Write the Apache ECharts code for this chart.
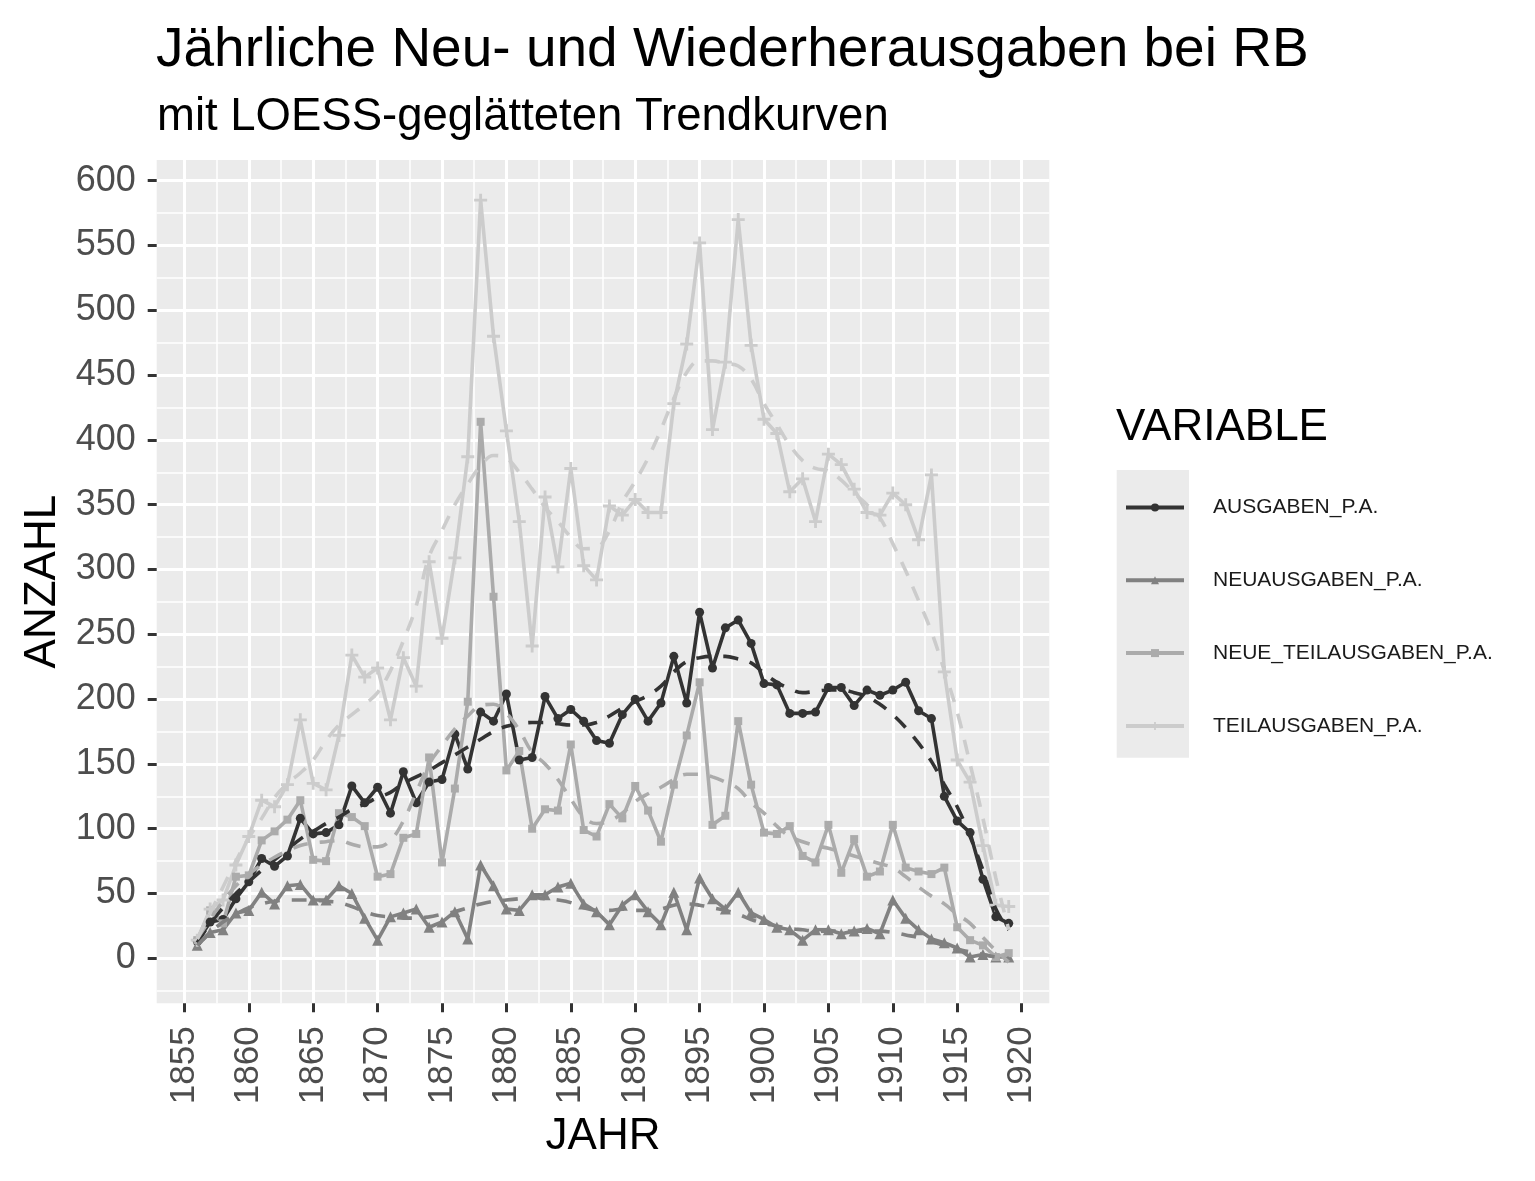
<!DOCTYPE html>
<html>
<head>
<meta charset="utf-8">
<script src="https://cdn.jsdelivr.net/npm/echarts@6/dist/echarts.min.js"></script>
<style>
html,body{margin:0;padding:0;background:#fff;}
#chart{width:1535px;height:1181px;}
</style>
</head>
<body>
<div id="chart"></div>
<script>
var years = [1856,1857,1858,1859,1860,1861,1862,1863,1864,1865,
  1866,1867,1868,1869,1870,1871,1872,1873,1874,1875,
  1876,1877,1878,1879,1880,1881,1882,1883,1884,1885,
  1886,1887,1888,1889,1890,1891,1892,1893,1894,1895,
  1896,1897,1898,1899,1900,1901,1902,1903,1904,1905,
  1906,1907,1908,1909,1910,1911,1912,1913,1914,1915,
  1916,1917,1918,1919];

var ausgaben = [13,28,30,46,59,77,71,79,108,96,
  97,103,133,120,132,112,144,120,136,138,
  173,146,190,183,204,153,155,202,185,192,
  183,168,166,188,200,183,197,233,197,267,
  224,255,261,243,212,211,189,189,190,209,
  209,195,207,203,207,213,191,185,125,106,
  97,61,32,27];

var neuausgaben = [10,20,22,35,37,51,42,56,57,45,
  45,56,50,31,14,32,35,38,24,28,
  36,15,72,56,38,37,49,49,55,58,
  42,36,26,41,49,36,26,51,22,62,
  46,38,51,35,30,24,22,14,22,22,
  19,21,23,19,45,31,22,15,12,8,
  1,3,1,1];

var neueTeilausgaben = [14,37,27,63,64,91,98,107,122,76,
  75,112,109,102,63,65,93,96,155,74,
  131,198,414,279,145,160,100,115,114,165,
  99,94,119,108,133,114,90,134,172,213,
  103,110,183,134,97,96,102,79,74,103,
  66,92,63,67,103,70,67,65,70,24,
  14,10,1,4];

var teilausgaben = [14,38,45,72,94,122,117,134,184,135,
  130,172,234,217,224,184,232,210,306,247,
  309,387,585,480,407,337,241,356,302,378,
  303,292,349,342,354,344,344,428,474,552,
  408,460,570,473,416,405,360,370,337,389,
  381,362,344,342,359,350,323,373,221,153,
  136,87,41,40];

var ausgabenLoess = [12,27,39,50,59,68,76,84,92,98,
  104,109,115,119,124,128,135,140,145,151,
  157,163,169,175,179,181,182,182,181,180,
  180,182,187,193,198,203,210,221,229,232,
  233,233,231,228,220,213,208,205,206,207,
  207,205,202,196,188,178,166,152,134,117,
  94,68,38,22];

var neuausgabenLoess = [10,20,28,34,39,42,44,45,45,45,
  44,43,40,36,33,32,31,31,32,34,
  36,39,42,44,45,46,47,46,45,43,
  39,37,37,38,37,37,38,41,42,41,
  39,37,34,30,27,25,23,22,21,21,
  21,21,21,21,20,18,16,13,10,7,
  5,3,1,0];

var neueTeilausgabenLoess = [15,30,44,56,65,72,78,83,87,89,
  90,91,88,86,86,91,106,128,150,164,
  177,187,195,196,189,176,159,150,138,123,
  109,104,106,112,121,127,132,138,142,142,
  140,136,131,120,112,102,94,90,87,85,
  82,79,76,73,70,63,55,48,42,34,
  27,16,6,-3];

var teilausgabenLoess = [15,35,55,75,93,108,124,135,143,153,
  168,180,188,196,205,222,245,272,310,330,
  350,366,380,388,386,375,362,348,337,325,
  316,317,330,352,368,386,408,432,452,461,
  461,459,457,447,428,412,396,384,378,376,
  369,359,350,340,320,299,276,252,222,190,
  150,108,62,22];

var seriesNames = ['AUSGABEN_P.A.','NEUAUSGABEN_P.A.','NEUE_TEILAUSGABEN_P.A.','TEILAUSGABEN_P.A.'];
var xMajorTicks = [1855,1860,1865,1870,1875,1880,1885,1890,1895,1900,1905,1910,1915,1920];
var xMinorTicks = [1857.5,1862.5,1867.5,1872.5,1877.5,1882.5,1887.5,1892.5,1897.5,1902.5,1907.5,1912.5,1917.5];
var yMajorTicks = [0,50,100,150,200,250,300,350,400,450,500,550,600];
var yMinorTicks = [-25,25,75,125,175,225,275,325,375,425,475,525,575];

var FONT = "'Liberation Sans', Arial, Helvetica, sans-serif";
var colors = ['#333333','#818181','#ababab','#cccccc'];
var symbols = ['circle','triangle','rect','path://M3.9,0H6.1V3.9H10V6.1H6.1V10H3.9V6.1H0V3.9H3.9Z'];
var symbolSizes = [9,11,8,13];
var valueSets = [ausgaben, neuausgaben, neueTeilausgaben, teilausgaben];
var loessSets = [ausgabenLoess, neuausgabenLoess, neueTeilausgabenLoess, teilausgabenLoess];

function pairs(arr){ return years.map(function(y,i){ return [y, arr[i]]; }); }

var series = [];
for (var k = 0; k < 4; k++) {
  series.push({
    name: seriesNames[k], type: 'line', data: pairs(valueSets[k]),
    symbol: symbols[k], symbolSize: symbolSizes[k], showSymbol: true,
    symbolKeepAspect: true,
    lineStyle: {color: colors[k], width: 3.6},
    itemStyle: {color: colors[k]},
    emphasis: {disabled: true},
    z: 2
  });
}
for (var k2 = 0; k2 < 4; k2++) {
  series.push({
    name: seriesNames[k2] + ' LOESS', type: 'line', data: pairs(loessSets[k2]),
    symbol: 'none', showSymbol: false, smooth: 0.4,
    lineStyle: {color: colors[k2], width: 3.6, type: [15, 12]},
    emphasis: {disabled: true},
    z: 3
  });
}

var chart = echarts.init(document.getElementById('chart'), null, {renderer: 'canvas'});
chart.setOption({
  animation: false,
  backgroundColor: '#ffffff',
  title: [
    {text: 'Jährliche Neu- und Wiederherausgaben bei RB', left: 156, top: 23, padding: 0,
     textStyle: {fontFamily: FONT, fontSize: 55, fontWeight: 'normal', color: '#000'}},
    {text: 'mit LOESS-geglätteten Trendkurven', left: 157, top: 94, padding: 0,
     textStyle: {fontFamily: FONT, fontSize: 45.5, fontWeight: 'normal', color: '#000'}},
    {text: 'VARIABLE', left: 1116, top: 406, padding: 0,
     textStyle: {fontFamily: FONT, fontSize: 44, fontWeight: 'normal', color: '#000'}}
  ],
  graphic: [
    {type: 'rect', left: 1116.7, top: 470, z: 0, shape: {width: 72.3, height: 287.7}, style: {fill: '#ebebeb'}}
  ],
  legend: {
    data: seriesNames, orient: 'vertical', left: 1124, top: 497, padding: 0,
    itemWidth: 58, itemHeight: 10, itemGap: 51.8,
    lineStyle: {width: 4},
    textStyle: {fontFamily: FONT, fontSize: 21, color: '#1a1a1a', padding: [0, 0, 0, 24]},
    selectedMode: false
  },
  grid: {left: 156.7, top: 160, width: 892.6, height: 843.3, show: true,
         backgroundColor: '#ebebeb', borderWidth: 0, containLabel: false, outerBoundsMode: 'none'},
  xAxis: [
    {type: 'value', min: 1852.85, max: 1922.15, position: 'bottom',
     axisLine: {show: false, onZero: false},
     axisTick: {show: true, customValues: xMajorTicks, length: 9, lineStyle: {color: '#333333', width: 3}},
     axisLabel: {customValues: xMajorTicks, rotate: 90, margin: 23, fontFamily: FONT, fontSize: 35, color: '#4d4d4d',
                 formatter: function(v){ return String(Math.round(v)); }},
     splitLine: {show: true, lineStyle: {color: '#ffffff', width: 3}},
     name: 'JAHR', nameLocation: 'middle', nameGap: 112,
     nameTextStyle: {fontFamily: FONT, fontSize: 44, color: '#000'}},
    {type: 'value', min: 1852.85, max: 1922.15,
     axisLine: {show: false, onZero: false},
     axisTick: {show: false, customValues: xMinorTicks},
     axisLabel: {show: false, customValues: xMinorTicks},
     splitLine: {show: true, lineStyle: {color: '#ffffff', width: 1.5}}}
  ],
  yAxis: [
    {type: 'value', min: -34.7, max: 616, position: 'left',
     axisLine: {show: false, onZero: false},
     axisTick: {show: true, customValues: yMajorTicks, length: 9, lineStyle: {color: '#333333', width: 3}},
     axisLabel: {customValues: yMajorTicks, margin: 21, fontFamily: FONT, fontSize: 36, color: '#4d4d4d'},
     splitLine: {show: true, lineStyle: {color: '#ffffff', width: 3}},
     name: 'ANZAHL', nameLocation: 'middle', nameGap: 92, nameRotate: 90,
     nameTextStyle: {fontFamily: FONT, fontSize: 44, color: '#000'}},
    {type: 'value', min: -34.7, max: 616,
     axisLine: {show: false, onZero: false},
     axisTick: {show: false, customValues: yMinorTicks},
     axisLabel: {show: false, customValues: yMinorTicks},
     splitLine: {show: true, lineStyle: {color: '#ffffff', width: 1.5}}}
  ],
  series: series
});
</script>
</body>
</html>
